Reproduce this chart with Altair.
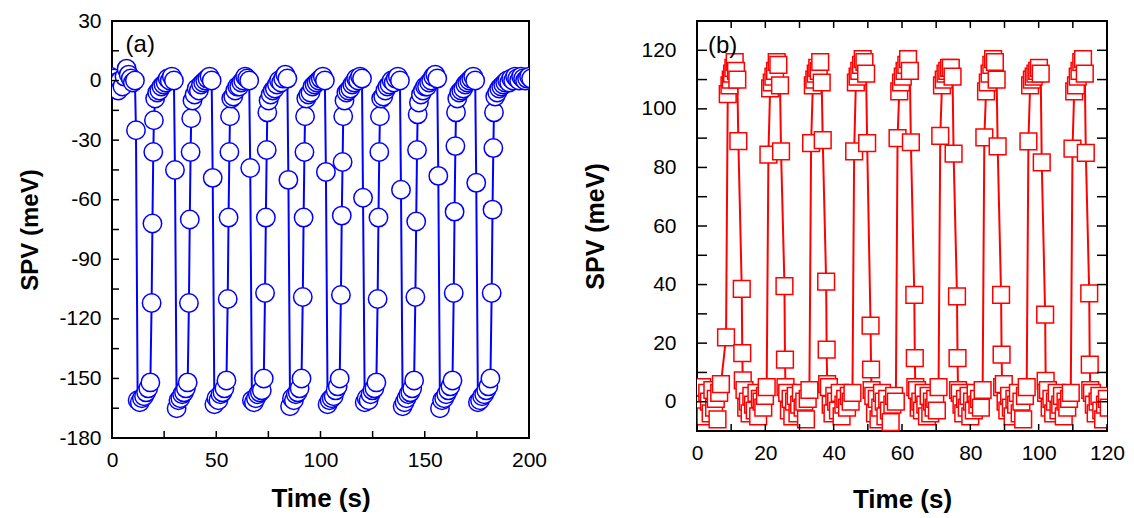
import altair as alt
import pandas as pd

FONT = "Liberation Sans"
BLUE = "#0000ff"
RED = "#ff0000"

# ---------------- panel (a): blue open circles ----------------
A_X_LABELS = [0, 50, 100, 150, 200]
A_Y_LABELS = [-180, -150, -120, -90, -60, -30, 0, 30]
A_X_TICKS = [0, 25, 50, 75, 100, 125, 150, 175, 200]
A_Y_TICKS = [-180, -165, -150, -135, -120, -105, -90, -75, -60, -45, -30, -15, 0, 15, 30]

# first "dark" plateau (t = -1 .. 11 s)
A_HIGH0 = [2, -3, 1, -1, -5, 0, -3, 2, 6, 3, 1, -1, 0]
# light-on: fast drop (one point on the way down)
A_FALL_T = [11.5, 30.2, 48.3, 66.3, 84.6, 102.6, 120.4, 138.6, 156.5, 174.7]
A_FALL_V = [-25, -45, -49, -44, -50, -46, -59, -55, -48, -51.5]
# illuminated plateau near -160 meV
A_LOW = [
    [-161, -162, -160, -159, -157, -155, -152],
    [-165, -161, -160, -158, -157, -155, -152],
    [-163, -160, -161, -158, -157, -155, -151],
    [-161, -162, -160, -158, -157, -156, -150],
    [-164, -160, -161, -158, -157, -155, -150],
    [-163, -161, -160, -159, -156, -154, -150],
    [-162, -160, -161, -158, -156, -155, -152],
    [-164, -162, -160, -158, -157, -155, -151],
    [-165, -161, -160, -158, -156, -154, -151],
    [-162, -161, -159, -158, -156, -154, -150],
]
# light-off: recovery through intermediate points
A_RISE_T = [19.0, 36.9, 55.5, 73.4, 91.5, 109.8, 127.4, 145.5, 163.9, 182.1]
A_RISE_DT = [0.0, 0.4, 0.8, 1.1]
A_RISE_V = [
    [-112, -72, -36, -20],
    [-112, -70, -36, -19],
    [-110, -69, -36, -18],
    [-107, -69, -35, -16],
    [-109, -69, -36, -18],
    [-108, -68, -41, -18],
    [-110, -69, -36, -18],
    [-109, -71, -35, -17],
    [-107, -66, -33, -16],
    [-107, -65, -34, -16],
]
# dark plateaus near 0 meV
A_HIGH = [
    [-9, -6, -5, -3, -2, -1, 1, 0, 2, 0],
    [-10, -7, -4, -5, -2, -1, 0, 1, 2, 0],
    [-9, -8, -5, -3, -3, -1, 0, 2, 1, 0],
    [-10, -7, -5, -4, -2, 0, -1, 1, 3, 1],
    [-9, -7, -6, -3, -2, -1, 0, 1, 2, 0],
    [-10, -6, -5, -4, -2, -1, 1, 0, 2, 1],
    [-9, -8, -5, -3, -2, 0, -1, 1, 2, 0],
    [-11, -7, -5, -3, -3, -1, 0, 2, 3, 1],
    [-9, -6, -5, -4, -2, -1, 0, 1, 2, 0],
    [-8, -6, -4, -3, -2, -1, 0, -1, 1, 0, 2, 1, 0, 2, 1, 0, 1, 2, 1],
]

# ---------------- panel (b): red open squares ----------------
B_X_LABELS = [0, 20, 40, 60, 80, 100, 120]
B_Y_LABELS = [0, 20, 40, 60, 80, 100, 120]
B_X_TICKS = [0, 10, 20, 30, 40, 50, 60, 70, 80, 90, 100, 110, 120]
B_Y_TICKS = [0, 10, 20, 30, 40, 50, 60, 70, 80, 90, 100, 110, 120]

B_LOW0 = [2, -3, 5, -1, -5, 3, 0, -4, 4, -2, 1, -6, 3, 6]
B_RISE_T = [8.5, 20.9, 33.4, 46.0, 58.7, 71.2, 84.1, 97.0, 109.9]
B_RISE_V = [[22, 105], [84.4], [88.3], [85.5], [90.0], [90.8], [90.3], [88.9], [86.4]]
B_HIGH = [
    [108, 110, 112, 114, 116, 113, 110],
    [107, 109, 111, 113, 116, 115, 108],
    [108, 110, 112, 114, 113, 116, 109],
    [109, 111, 113, 115, 117, 116, 112],
    [106, 109, 111, 113, 115, 117, 113],
    [108, 110, 112, 113, 114, 114, 111],
    [106, 109, 112, 115, 117, 116, 110],
    [108, 110, 111, 112, 113, 114, 112],
    [106, 108, 111, 113, 116, 117, 112],
]
B_FALL_T = [12.1, 24.6, 36.8, 49.8, 62.6, 75.1, 88.0, 100.9, 113.8]
B_FALL_DT = [0.0, 1.0, 1.15, 1.3]
B_FALL_V = [
    [89.0, 38.5, 16.6, 7.3],
    [85.5, 39.5, 14.4, 5.0],
    [89.3, 41.0, 17.8, 6.0],
    [88.3, 26.0, 11.0, 4.0],
    [88.6, 36.5, 14.9, 5.0],
    [84.7, 36.0, 14.9, 4.0],
    [87.2, 36.5, 16.1, 5.0],
    [81.7, 29.7, 7.1, 3.0],
    [85.0, 37.0, 12.7, 4.0],
]
B_LOW = [
    [4, -2, 0, -4, 2, -1, -3, 3, -5, 1, 0, -2, 2, 5],
    [3, -3, 1, -5, 0, 2, -4, -1, 3, -2, 0, -6, 1, 4],
    [5, -1, -4, 2, 0, -3, 3, -5, -1, 1, -2, 2, 0, 3],
    [2, -4, 1, -6, -2, 3, 0, -5, 1, -3, -7, -1, 2, 0],
    [4, -2, 0, -3, 3, -1, -5, 2, -4, 0, -2, 1, -3, 5],
    [3, -1, -4, 1, -2, 2, -5, 0, -3, 3, -1, 1, -2, 4],
    [6, 0, -3, 2, -2, -5, 1, -1, 3, -4, 0, -6, 2, 5],
    [4, -2, 1, -4, 0, 3, -3, -1, 2, -5, 0, -2, 1, 3],
    [3, -1, -4, 0, 2, -3, -6, -1, 1, -2],
]


def spread(t0, t1, vals):
    """place a run of successive samples between two instants"""
    n = len(vals)
    if n == 1:
        return [(t0, vals[0])]
    step = (t1 - t0) / (n - 1)
    return [(t0 + i * step, v) for i, v in enumerate(vals)]


# assemble panel (a)
pa = spread(-1.0, 11.0, A_HIGH0)
for k in range(len(A_FALL_T)):
    pa.append((A_FALL_T[k], A_FALL_V[k]))
    pa += spread(A_FALL_T[k] + 0.8, A_RISE_T[k] - 0.6, A_LOW[k])
    pa += [(A_RISE_T[k] + d, v) for d, v in zip(A_RISE_DT, A_RISE_V[k])]
    end = A_FALL_T[k + 1] - 0.5 if k + 1 < len(A_FALL_T) else 201.0
    pa += spread(A_RISE_T[k] + 1.7, end, A_HIGH[k])
df_a = pd.DataFrame(pa, columns=["t", "v"])
df_a["i"] = range(len(df_a))

# assemble panel (b)
pb = spread(0.5, 7.0, B_LOW0)
for k in range(len(B_RISE_T)):
    rv = B_RISE_V[k]
    pb += [(B_RISE_T[k] + 0.5 * j, v) for j, v in enumerate(rv)]
    pb += spread(B_RISE_T[k] + 0.5 * len(rv), B_FALL_T[k] - 0.3, B_HIGH[k])
    pb += [(B_FALL_T[k] + d, v) for d, v in zip(B_FALL_DT, B_FALL_V[k])]
    end = B_RISE_T[k + 1] - 0.5 if k + 1 < len(B_RISE_T) else 120.5
    pb += spread(B_FALL_T[k] + 1.8, end, B_LOW[k])
df_b = pd.DataFrame(pb, columns=["t", "v"])
df_b["i"] = range(len(df_b))


def panel(df, xdom, ydom, xlabels, ylabels, xticks, yticks, w, h, color,
          shape, size, ylabpad, ytitlex, xtitley, ytitlesize, tag, tagpos, side_ticks):
    X = alt.X("t:Q", scale=alt.Scale(domain=xdom, nice=False, zero=False),
              axis=alt.Axis(values=xlabels, title="Time (s)", labelPadding=11,
                            labelExpr="toString(datum.value)",
                            titleY=xtitley, titleBaseline="middle", titleFontSize=26))
    Y = alt.Y("v:Q", scale=alt.Scale(domain=ydom, nice=False, zero=False),
              axis=alt.Axis(values=ylabels, title="SPV (meV)", labelPadding=ylabpad,
                            labelExpr="toString(datum.value)",
                            titleX=ytitlex, titleBaseline="middle", titleAngle=270,
                            titleFontSize=ytitlesize))
    line = alt.Chart(df).mark_line(color=color, strokeWidth=2, clip=True).encode(
        x=X, y=Y, order="i:Q")
    pts = alt.Chart(df).mark_point(shape=shape, size=size, filled=True, fill="white",
                                   stroke=color, strokeWidth=1.5, opacity=1,
                                   clip=True).encode(x=X, y=Y)
    dxt = pd.DataFrame({"t": xticks})
    dyt = pd.DataFrame({"v": yticks})
    layers = [line, pts]
    layers.append(alt.Chart(dyt).mark_rule(color="black", strokeWidth=1.5).encode(
        y=Y, x=alt.value(0), x2=alt.value(side_ticks[0])))
    layers.append(alt.Chart(dxt).mark_rule(color="black", strokeWidth=1.5).encode(
        x=X, y=alt.value(h), y2=alt.value(h - side_ticks[1])))
    if side_ticks[2]:
        layers.append(alt.Chart(dyt).mark_rule(color="black", strokeWidth=1.5).encode(
            y=Y, x=alt.value(w), x2=alt.value(w - side_ticks[0])))
        layers.append(alt.Chart(dxt).mark_rule(color="black", strokeWidth=1.5).encode(
            x=X, y=alt.value(0), y2=alt.value(side_ticks[1])))
    dtag = pd.DataFrame({"t": [tagpos[0]], "v": [tagpos[1]], "s": [tag]})
    layers.append(alt.Chart(dtag).mark_text(align="left", baseline="middle", font=FONT,
                                            fontSize=24, color="black").encode(
        x=X, y=Y, text="s:N"))
    return alt.layer(*layers).properties(width=w, height=h)


left = panel(df_a, [0, 200], [-180, 30], A_X_LABELS, A_Y_LABELS, A_X_TICKS, A_Y_TICKS,
             417, 417, BLUE, "circle", 340, 11, -82, 60, 24, "(a)", (6.5, 18),
             (7, 7, False))
right = panel(df_b, [0, 120], [-10, 130], B_X_LABELS, B_Y_LABELS, B_X_TICKS, B_Y_TICKS,
              410, 410, RED, "square", 280, 21, -102, 68, 25, "(b)", (3.2, 121.3),
              (10, 7, True))

chart = alt.hconcat(left, right, spacing=168, bounds="flush").properties(
    padding={"left": 17, "top": 9, "right": 5, "bottom": 5}
).configure_view(stroke="black", strokeWidth=2).configure_axis(
    labelFont=FONT, labelFontSize=21, labelColor="black", labelFlush=False,
    labelOverlap=False, titleFont=FONT, titleFontWeight="bold",
    titleColor="black", grid=False, domain=False, ticks=False
)

chart.save("out.html", embed_options={"renderer": "svg", "actions": False})
